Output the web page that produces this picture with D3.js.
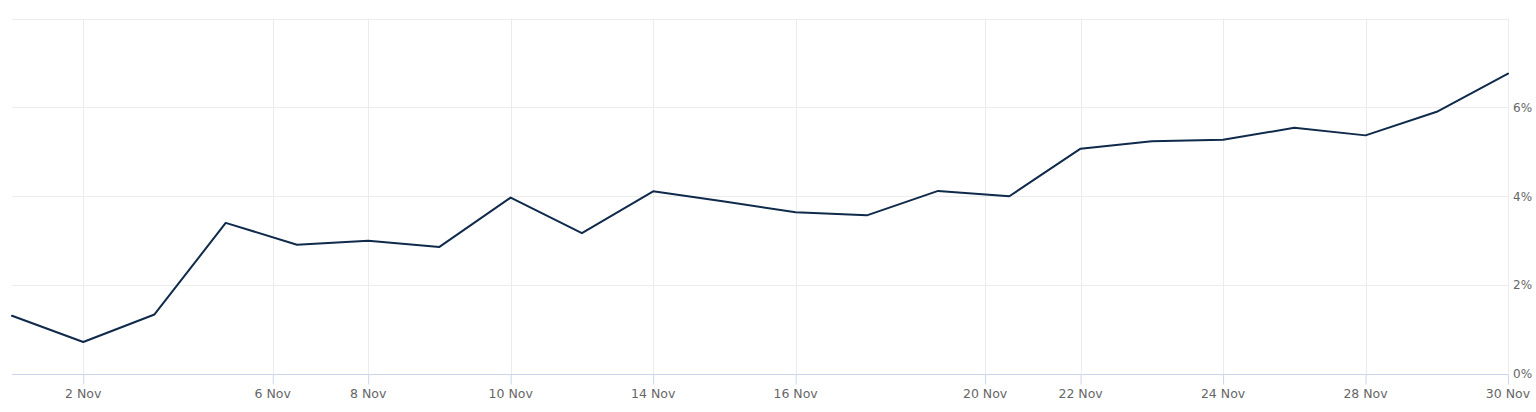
<!DOCTYPE html>
<html>
<head>
<meta charset="utf-8">
<script src="https://cdn.jsdelivr.net/npm/d3@7"></script>
<style>
    body { margin: 0; background: #ffffff; }
    svg text { font-family: "DejaVu Sans", "Lucida Grande", sans-serif; }
</style>
</head>
<body>
<div id="chart"></div>
<script>
// daily points, index 0..21
var values = [1.31, 0.72, 1.34, 3.40, 2.91, 3.00, 2.86, 3.97, 3.17, 4.11, 3.88,
    3.64, 3.57, 4.12, 4.00, 5.07, 5.24, 5.27, 5.54, 5.37, 5.90, 6.76];
// x ticks, in point-index units
var tick_index = [1, 3.66, 5, 7, 9, 11, 13.66, 15, 17, 19, 21];
var tick_labels = ['2 Nov', '6 Nov', '8 Nov', '10 Nov', '14 Nov', '16 Nov',
    '20 Nov', '22 Nov', '24 Nov', '28 Nov', '30 Nov'];
var y_ticks = [0, 2, 4, 6, 8];
var y_labels = ['0%', '2%', '4%', '6%', ''];

(function(){
    var width = 1536,
        height = 412,
        plot_left = 12,
        plot_right = 1508,
        plot_top = 18.5,
        plot_bottom = 374;

    var svg = d3.select('#chart').append('svg')
        .attr('width', width)
        .attr('height', height);

    var x = d3.scaleLinear().domain([0, values.length - 1]).range([plot_left, plot_right]);
    var y = d3.scaleLinear().domain([0, 8]).range([plot_bottom, plot_top]);

    // horizontal grid
    svg.append('g').selectAll('line')
        .data(y_ticks.slice(1))
        .enter().append('line')
        .attr('x1', plot_left)
        .attr('x2', plot_right)
        .attr('y1', function(d){ return Math.round(y(d)) + 0.5; })
        .attr('y2', function(d){ return Math.round(y(d)) + 0.5; })
        .attr('stroke', '#ececec')
        .attr('stroke-width', 1);

    // vertical grid
    svg.append('g').selectAll('line')
        .data(tick_index)
        .enter().append('line')
        .attr('x1', function(d){ return Math.round(x(d)) + 0.5; })
        .attr('x2', function(d){ return Math.round(x(d)) + 0.5; })
        .attr('y1', plot_top)
        .attr('y2', plot_bottom)
        .attr('stroke', '#ececec')
        .attr('stroke-width', 1);

    // x axis
    var x_axis = d3.axisBottom(x)
        .tickValues(tick_index)
        .tickFormat(function(d, i){ return tick_labels[i]; })
        .tickSize(10)
        .tickPadding(5)
        .offset(0);

    var gx = svg.append('g')
        .attr('transform', 'translate(0,' + (plot_bottom + 0.5) + ')')
        .call(x_axis);

    gx.select('.domain')
        .attr('d', 'M' + plot_left + ',0H' + plot_right)
        .attr('stroke', '#ccd6eb');
    gx.selectAll('.tick line')
        .attr('stroke', '#ccd6eb')
        .attr('transform', 'translate(0.5,0)');
    gx.selectAll('.tick text')
        .attr('fill', '#666666')
        .attr('font-size', '12.5px');

    // y labels on the right
    var y_axis = d3.axisRight(y)
        .tickValues(y_ticks)
        .tickFormat(function(d, i){ return y_labels[i]; })
        .tickSize(0)
        .tickPadding(5);

    var gy = svg.append('g')
        .attr('transform', 'translate(' + plot_right + ',0)')
        .call(y_axis);

    gy.select('.domain').remove();
    gy.selectAll('.tick text')
        .attr('fill', '#666666')
        .attr('font-size', '12px');

    // line
    var line = d3.line()
        .x(function(d, i){ return x(i); })
        .y(function(d){ return y(d); });

    svg.append('path')
        .datum(values)
        .attr('d', line)
        .attr('fill', 'none')
        .attr('stroke', '#0f2a4a')
        .attr('stroke-width', 2)
        .attr('stroke-linejoin', 'round')
        .attr('stroke-linecap', 'round');
})();
</script>
</body>
</html>
